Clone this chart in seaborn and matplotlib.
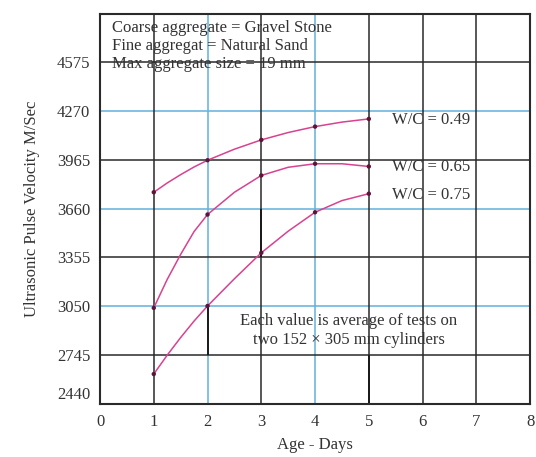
import matplotlib
matplotlib.use("Agg")
import matplotlib.pyplot as plt
import matplotlib.transforms as mtransforms
import seaborn as sns
import pandas as pd

# valeurs (jours, vitesse en m/s)
days = [1, 1.25, 1.5, 1.75, 2, 2.5, 3, 3.5, 4, 4.5, 5]
v_049 = [3762, 3820, 3872, 3920, 3962, 4031, 4089, 4135, 4172, 4200, 4220]
v_065 = [3040, 3218, 3374, 3517, 3623, 3762, 3867, 3918, 3940, 3940, 3923]
v_075 = [2627, 2745, 2855, 2958, 3052, 3222, 3384, 3519, 3637, 3710, 3753]

measured_days = [1, 2, 3, 4, 5]
series_names = ["W/C = 0.49", "W/C = 0.65", "W/C = 0.75"]

yticks = [2440, 2745, 3050, 3355, 3660, 3965, 4270, 4575]
xticks = [0, 1, 2, 3, 4, 5, 6, 7, 8]

notes = ["Coarse aggregate = Gravel Stone",
         "Fine aggregat = Natural Sand",
         "Max aggregate size = 19 mm"]
footnote = "Each value is average of tests on\ntwo 152 \u00d7 305 mm cylinders"

sns.set_style("white")
plt.rcParams['font.family'] = ['Liberation Serif', 'DejaVu Serif']

rows = []
for name, vals in zip(series_names, [v_049, v_065, v_075]):
    for d, v in zip(days, vals):
        rows.append({"jour": d, "vitesse": v, "serie": name})
df = pd.DataFrame(rows)
pts = df[df["jour"].isin(measured_days)]

fig = plt.figure(figsize=(5.36, 4.57), dpi=100)
ax = fig.add_axes([0.1866, 0.116, 0.8024, 0.853])

# grille : lignes noires et bleues alternées
black_x = [1, 3, 5, 6, 7]
blue_x = [2, 4]
black_y = [2745, 3355, 3965, 4575]
blue_y = [3050, 3660, 4270]
for x in blue_x:
    ax.axvline(x, color="#62b0dc", lw=1.1, zorder=1)
for y in blue_y:
    ax.axhline(y, color="#62b0dc", lw=1.1, zorder=1)
for x in black_x:
    ax.axvline(x, color="#2a2a2a", lw=1.1, zorder=1)
for y in black_y:
    ax.axhline(y, color="#2a2a2a", lw=1.1, zorder=1)
# quelques traits noirs du dessin d'origine
ax.vlines([2, 3, 5], [2745, 3355, 2440], [3050, 3660, 2745], color="#1a1a1a", lw=1.4, zorder=1)

sns.lineplot(data=df, x="jour", y="vitesse", hue="serie", palette=["#d8428f"] * 3,
             lw=1.1, legend=False, ax=ax, zorder=3)
sns.scatterplot(data=pts, x="jour", y="vitesse", color="#5a1638", s=10,
                edgecolor="none", legend=False, ax=ax, zorder=4)

ax.set_xlim(0, 8)
ax.set_ylim(2447, 4874)
ax.set_xticks(xticks)
ax.set_yticks(yticks)
ax.set_xticklabels([str(t) for t in xticks])
ax.set_yticklabels([str(t) for t in yticks])
ax.tick_params(length=0, labelsize=12, pad=7, colors="#333333")
ax.set_xlabel("Age - Days", fontsize=12, color="#333333", labelpad=5)
ax.set_ylabel("Ultrasonic Pulse Velocity M/Sec", fontsize=12, color="#333333", labelpad=12)

# 2440 remonté comme sur l'original
lab0 = ax.get_yticklabels()[0]
lab0.set_transform(lab0.get_transform() + mtransforms.ScaledTranslation(0, 0.11, fig.dpi_scale_trans))

for sp in ax.spines.values():
    sp.set_color("#2a2a2a")
    sp.set_linewidth(1.5)

for txt, y in zip(notes, [4787, 4675, 4563]):
    ax.text(0.22, y, txt, fontsize=12, color="#333333", va="center", ha="left", zorder=5)

label_y = [4214, 3921, 3747]
for txt, y in zip(series_names, label_y):
    ax.text(5.43, y, txt, fontsize=12, color="#333333", va="center", ha="left", zorder=5)

ax.text(4.63, 2900, footnote, fontsize=12, color="#333333", va="center", ha="center",
        linespacing=1.2, zorder=5)

fig.savefig("out.png", dpi=100)
